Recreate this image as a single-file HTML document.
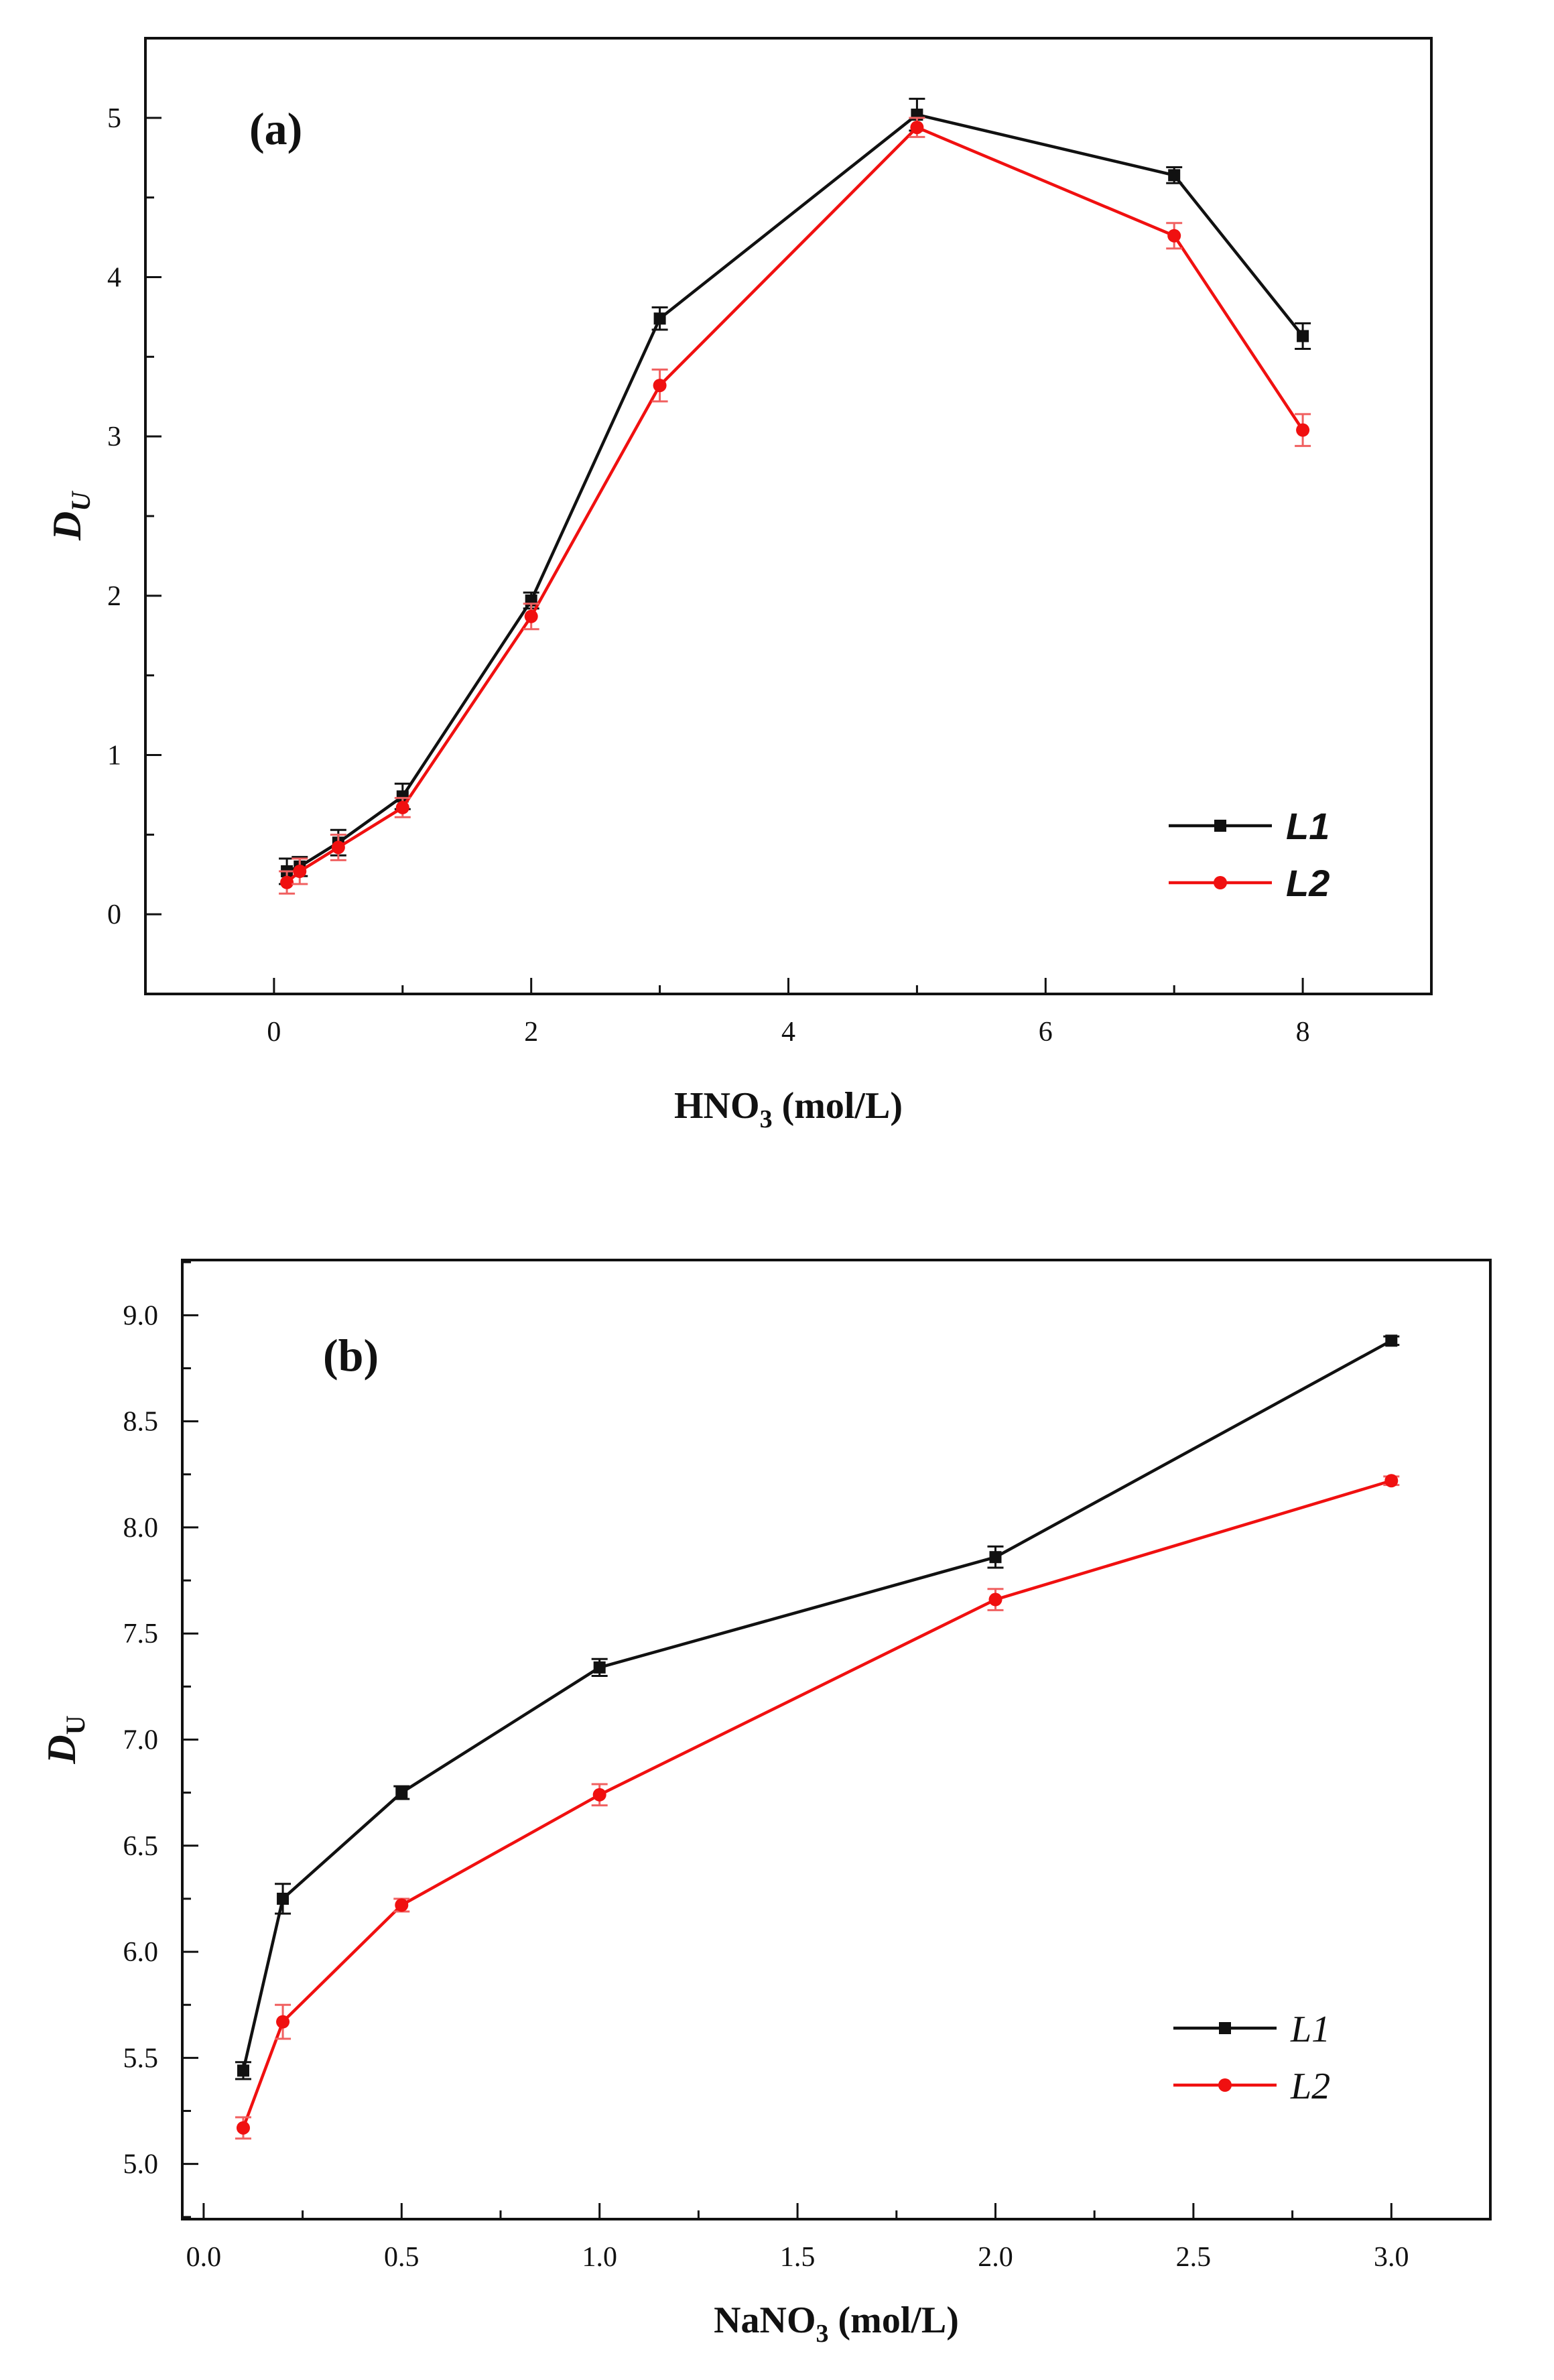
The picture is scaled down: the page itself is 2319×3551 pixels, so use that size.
<!DOCTYPE html>
<html><head><meta charset="utf-8"><style>
html,body{margin:0;padding:0;background:#fff}
svg{display:block}
text{font-family:"Liberation Serif",serif;fill:#111}
</style></head><body>
<svg id="fig" xmlns="http://www.w3.org/2000/svg" width="2319" height="3551" viewBox="0 0 2319 3551">
<rect width="2319" height="3551" fill="#fff"/>
<g id="pa"></g>
<g id="pb"></g>
</svg>
<script>
// Chart (a) data
const xA = [0.1, 0.2, 0.5, 1, 2, 3, 5, 7, 8];
const l1A = [0.27, 0.30, 0.45, 0.74, 1.97, 3.74, 5.02, 4.64, 3.63];
const l2A = [0.20, 0.27, 0.42, 0.67, 1.87, 3.32, 4.94, 4.26, 3.04];
const e1A = [0.08, 0.06, 0.08, 0.08, 0.05, 0.07, 0.1, 0.05, 0.08];
const e2A = [0.07, 0.08, 0.08, 0.06, 0.08, 0.1, 0.06, 0.08, 0.1];
const xTicksA = ["0", "2", "4", "6", "8"];
const yTicksA = ["0", "1", "2", "3", "4", "5"];
// Chart (b) data
const xB = [0.1, 0.2, 0.5, 1, 2, 3];
const l1B = [5.44, 6.25, 6.75, 7.34, 7.86, 8.88];
const l2B = [5.17, 5.67, 6.22, 6.74, 7.66, 8.22];
const e1B = [0.04, 0.07, 0.03, 0.04, 0.05, 0.02];
const e2B = [0.05, 0.08, 0.03, 0.05, 0.05, 0.02];
const xTicksB = ["0.0", "0.5", "1.0", "1.5", "2.0", "2.5", "3.0"];
const yTicksB = ["5.0", "5.5", "6.0", "6.5", "7.0", "7.5", "8.0", "8.5", "9.0"];

const NS = "http://www.w3.org/2000/svg";
function mk(parent, tag, attrs, txt) {
  const e = document.createElementNS(NS, tag);
  for (const k in attrs) e.setAttribute(k, attrs[k]);
  if (txt !== undefined) e.textContent = txt;
  parent.appendChild(e);
  return e;
}

function chart(g, cfg) {
  const {L, T, R, B, x0, x1, y0, y1} = cfg;
  const sx = v => L + (v - x0) / (x1 - x0) * (R - L);
  const sy = v => B - (v - y0) / (y1 - y0) * (B - T);
  const frame = mk(g, "rect", {x: L, y: T, width: R - L, height: B - T, fill: "none", stroke: "#111", "stroke-width": 4});
  
  
  // x ticks
  for (let v = cfg.xMinorStart; v <= x1 + 1e-9; v += cfg.xMinor) {
    const major = Math.abs(v / cfg.xMajor - Math.round(v / cfg.xMajor)) < 1e-6;
    mk(g, "line", {x1: sx(v), x2: sx(v), y1: B, y2: B - (major ? 24 : 13), stroke: "#111", "stroke-width": 3});
  }
  cfg.xLabels.forEach(s => {
    const t = mk(g, "text", {x: sx(parseFloat(s)), y: B + 70, "font-size": 42, "text-anchor": "middle"}, s);
    
    
  });
  for (let v = cfg.yMinorStart; v <= y1 + 1e-9; v += cfg.yMinor) {
    const major = Math.abs(v / cfg.yMajor - Math.round(v / cfg.yMajor)) < 1e-6;
    mk(g, "line", {x1: L, x2: L + (major ? 24 : 13), y1: sy(v), y2: sy(v), stroke: "#111", "stroke-width": 3});
  }
  cfg.yLabels.forEach(s => {
    const t = mk(g, "text", {x: L - 36, y: sy(parseFloat(s)) + 14, "font-size": 42, "text-anchor": "end"}, s);
    
    
  });
  // series
  cfg.series.forEach(s => {
    const sg = mk(g, "g", {});
    
    
    const pts = s.x.map((v, i) => sx(v) + "," + sy(s.y[i])).join(" ");
    mk(sg, "polyline", {points: pts, fill: "none", stroke: s.color, "stroke-width": 4.5});
    s.x.map((v, i) => {
      const cx = sx(v), cy = sy(s.y[i]), ea = sy(s.y[i] + s.e[i]), eb = sy(s.y[i] - s.e[i]);
      mk(sg, "path", {d: `M${cx},${ea}V${eb}M${cx - 12},${ea}H${cx + 12}M${cx - 12},${eb}H${cx + 12}`, stroke: s.ecolor, "stroke-width": 3, fill: "none"});
      let m;
      if (s.marker === "sq") m = mk(sg, "rect", {x: cx - 9, y: cy - 9, width: 18, height: 18, fill: s.color});
      else m = mk(sg, "circle", {cx: cx, cy: cy, r: 10, fill: s.color});
      
      
    });
  });
  // legend
  cfg.series.forEach((s, i) => {
    const ly = cfg.legY + i * 85;
    const lg = mk(g, "g", {});
    
    
    mk(lg, "line", {x1: cfg.legX, x2: cfg.legX + 154, y1: ly, y2: ly, stroke: s.color, "stroke-width": 4.5});
    if (s.marker === "sq") mk(lg, "rect", {x: cfg.legX + 68, y: ly - 9, width: 18, height: 18, fill: s.color});
    else mk(lg, "circle", {cx: cfg.legX + 77, cy: ly, r: 10, fill: s.color});
    mk(lg, "text", {x: cfg.legX + 175, y: ly + 20, "font-size": 56, "font-style": "italic", "font-weight": cfg.legBold ? "bold" : "normal", style: cfg.legBold ? "font-family:'Liberation Sans',sans-serif" : ""}, s.name);
  });
  const pl = mk(g, "text", {x: cfg.panelX, y: cfg.panelY, "font-size": 68, "font-weight": "bold"}, cfg.panel);
  
  
  const xt = mk(g, "text", {x: (L + R) / 2, y: cfg.xTitleY, "font-size": 56, "font-weight": "bold", "text-anchor": "middle"});
  
  
  xt.innerHTML = cfg.xTitle;
  const yt = mk(g, "text", {transform: `translate(${cfg.yTitleX},${(T + B) / 2}) rotate(-90)`, "font-size": 60, "font-weight": "bold", "text-anchor": "middle"});
  
  
  yt.innerHTML = cfg.yTitle;
}

chart(document.getElementById("pa"), {
  L: 217, T: 57, R: 2136, B: 1483, x0: -1, x1: 9, y0: -0.5, y1: 5.5,
  xMajor: 2, xMinor: 1, xMinorStart: 0, yMajor: 1, yMinor: 0.5, yMinorStart: -0.5,
  xLabels: xTicksA, yLabels: yTicksA,
  series: [
    {name: "L1", x: xA, y: l1A, e: e1A, color: "#111", ecolor: "#111", marker: "sq"},
    {name: "L2", x: xA, y: l2A, e: e2A, color: "#f01010", ecolor: "#f06060", marker: "ci"}
  ],
  legX: 1744, legY: 1232, legBold: true,
  panel: "(a)", panelX: 372, panelY: 215,
  xTitle: 'HNO<tspan font-size="38" dy="14">3</tspan><tspan dy="-14"> (mol/L)</tspan>', xTitleY: 1668,
  yTitle: '<tspan font-style="italic">D</tspan><tspan font-style="italic" font-size="40" dy="14">U</tspan>', yTitleX: 120
});

chart(document.getElementById("pb"), {
  L: 272, T: 1880, R: 2224, B: 3311, x0: -0.054, x1: 3.25, y0: 4.74, y1: 9.26,
  xMajor: 0.5, xMinor: 0.25, xMinorStart: 0, yMajor: 0.5, yMinor: 0.25, yMinorStart: 4.75,
  xLabels: xTicksB, yLabels: yTicksB,
  series: [
    {name: "L1", x: xB, y: l1B, e: e1B, color: "#111", ecolor: "#111", marker: "sq"},
    {name: "L2", x: xB, y: l2B, e: e2B, color: "#f01010", ecolor: "#f06060", marker: "ci"}
  ],
  legX: 1751, legY: 3026, legBold: false,
  panel: "(b)", panelX: 482, panelY: 2045,
  xTitle: 'NaNO<tspan font-size="38" dy="14">3</tspan><tspan dy="-14"> (mol/L)</tspan>', xTitleY: 3480,
  yTitle: '<tspan font-style="italic">D</tspan><tspan font-size="40" dy="14">U</tspan>', yTitleX: 112
});
</script>
</body></html>
